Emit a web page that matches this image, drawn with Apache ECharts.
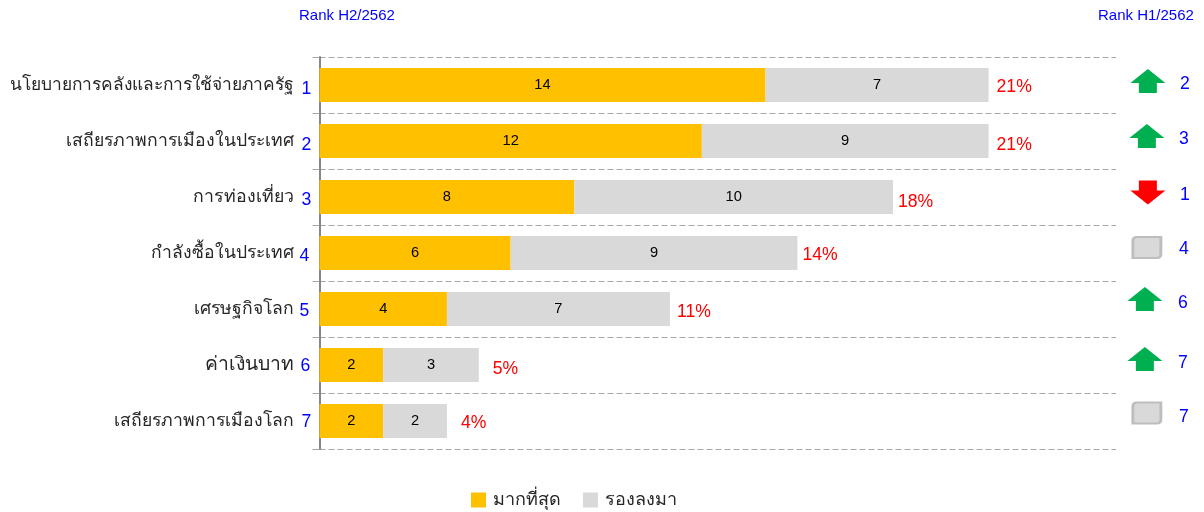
<!DOCTYPE html>
<html><head><meta charset="utf-8">
<style>html,body{margin:0;padding:0;background:#fff}#c{width:1204px;height:512px}</style>
<script src="https://cdn.jsdelivr.net/npm/echarts@6/dist/echarts.min.js"></script>
</head><body><div id="c"></div>
<script>
// ---- data ----
const categories = ['นโยบายการคลังและการใช้จ่ายภาครัฐ','เสถียรภาพการเมืองในประเทศ','การท่องเที่ยว','กำลังซื้อในประเทศ','เศรษฐกิจโลก','ค่าเงินบาท','เสถียรภาพการเมืองโลก'];
const mostValues = [14,12,8,6,4,2,2];
const secondValues = [7,9,10,9,7,3,2];
const percentLabels = ['21%','21%','18%','14%','11%','5%','4%'];
const rankH2 = [1,2,3,4,5,6,7];
const rankH1 = [2,3,1,4,6,7,7];
const trend = ['up','up','down','same','up','up','same'];
const seriesNames = ['มากที่สุด','รองลงมา'];
const headers = ['Rank H2/2562','Rank H1/2562'];

// ---- layout nudges (pixels) ----
const catFontSize = [17.33,17.6,17.7,17.5,17.6,19.3,17.6];
const pctOffset = [[8,2],[8,4],[5,5],[5,2],[7,3],[14,4],[14,2]];
const h2Offset = [[-13,4],[-13,4],[-13,3],[-15,3],[-15,2],[-14,1],[-13,1]];
const arrowOffset = [[0,-4],[-1,-5],[0,-4.5],[-1,-5.5],[-3,-10],[-3,-6],[-1,-8]];
const h1Offset = [[37,-1],[36,-2],[37,-2],[36,-4],[35,-6],[35,-2],[36,-4]];
const ARROW_UP = 'path://M17.5 0L35 14L26.5 14L26.5 24L8.5 24L8.5 14L0 14Z';
const ARROW_DOWN = 'path://M8.5 0L26.5 0L26.5 10L35 10L17.5 24L0 10L8.5 10Z';
const BOX = 'path://M4 0L28 0L28 17Q28 21 24 21L0 21L0 4Q0 0 4 0Z';
const FONT = '"Liberation Sans", Arial, sans-serif';
const COLUMN_X = 26;
const BLUE = '#0000ff', RED = '#ff0000';

const totals = mostValues.map((v,i)=>v+secondValues[i]);
const chart = echarts.init(document.getElementById('c'), null, {renderer:'canvas'});
const textOnly = {symbol:'circle', symbolSize:0, silent:true, z:5, itemStyle:{opacity:1, color:'#fff'}};
const catRich = {};
catFontSize.forEach((s,i)=>{catRich['r'+i]={fontSize:s,color:'#262626',fontFamily:FONT};});

chart.setOption({
  animation:false,
  backgroundColor:'#fff',
  textStyle:{fontFamily:FONT},
  title:[
    {text:headers[0], left:299, top:8, padding:0, textStyle:{color:BLUE,fontSize:15,fontWeight:'normal',fontFamily:FONT}},
    {text:headers[1], left:1098, top:8, padding:0, textStyle:{color:BLUE,fontSize:15,fontWeight:'normal',fontFamily:FONT}}
  ],
  legend:{
    data:seriesNames, left:471, top:491, padding:0, itemWidth:15, itemHeight:15, itemGap:22,
    icon:'rect', textStyle:{fontSize:18,color:'#262626',fontFamily:FONT,padding:[0,0,0,2]}
  },
  grid:{left:319.5, top:57, width:796.5, height:392, containLabel:false},
  xAxis:{type:'value', min:0, max:25, show:false, splitLine:{show:false}},
  yAxis:{
    type:'category', inverse:true, data:categories,
    axisLine:{show:true, lineStyle:{color:'#868686', width:2}},
    axisTick:{show:true, length:7, lineStyle:{color:'#a6a6a6', width:1}},
    axisLabel:{margin:26, formatter:(v,i)=>'{r'+i+'|'+v+'}', rich:catRich},
    splitLine:{show:true, lineStyle:{color:'#a6a6a6', width:1, type:[6,3]}}
  },
  series:[
    {name:seriesNames[0], type:'bar', stack:'a', barCategoryGap:'39%', data:mostValues,
     itemStyle:{color:'#FFC000'}, label:{show:true, position:'inside', color:'#000', fontSize:14.67, fontFamily:FONT}},
    {name:seriesNames[1], type:'bar', stack:'a', data:secondValues,
     itemStyle:{color:'#D9D9D9'}, label:{show:true, position:'inside', color:'#000', fontSize:14.67, fontFamily:FONT}},
    Object.assign({type:'scatter', name:'pct',
      data:totals.map((t,i)=>({value:[t,categories[i]],
        label:{show:true, position:'right', distance:0, offset:pctOffset[i], formatter:percentLabels[i], color:RED, fontSize:17.6, fontFamily:FONT}}))}, textOnly),
    Object.assign({type:'scatter', name:'h2',
      data:rankH2.map((r,i)=>({value:[0,categories[i]],
        label:{show:true, position:'inside', offset:h2Offset[i], formatter:String(r), color:BLUE, fontSize:17.6, fontFamily:FONT}}))}, textOnly),
    {type:'scatter', name:'trend', silent:true, z:4, clip:false,
      data:trend.map((t,i)=>({value:[COLUMN_X,categories[i]],
        symbol:t==='up'?ARROW_UP:t==='down'?ARROW_DOWN:BOX,
        symbolSize:t==='same'?[28,21]:[35,24],
        symbolOffset:arrowOffset[i],
        itemStyle:t==='same'?{color:'#D9D9D9',borderColor:'#BDBDBD',borderWidth:2.5,opacity:1}:{color:t==='up'?'#00B050':'#FF0000',opacity:1}}))},
    Object.assign({type:'scatter', name:'h1', clip:false,
      data:rankH1.map((r,i)=>({value:[COLUMN_X,categories[i]],
        label:{show:true, position:'inside', offset:h1Offset[i], formatter:String(r), color:BLUE, fontSize:17.6, fontFamily:FONT}}))}, textOnly)
  ]
});
</script></body></html>
